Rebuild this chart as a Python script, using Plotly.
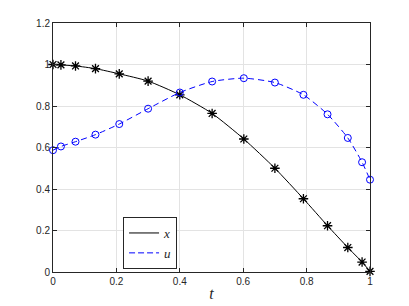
import plotly.graph_objects as go

# nodes (time)
t_nodes = [0.0, 0.025, 0.071, 0.134, 0.209, 0.300, 0.400, 0.502, 0.602, 0.700, 0.790, 0.866, 0.930, 0.975, 1.0]
x_vals = [1.0, 0.998, 0.993, 0.980, 0.955, 0.920, 0.854, 0.764, 0.641, 0.500, 0.353, 0.223, 0.118, 0.048, 0.003]
u_vals = [0.587, 0.605, 0.628, 0.662, 0.713, 0.787, 0.865, 0.918, 0.934, 0.913, 0.854, 0.760, 0.646, 0.529, 0.445]

x_ticks = [0, 0.2, 0.4, 0.6, 0.8, 1]
y_ticks = [0, 0.2, 0.4, 0.6, 0.8, 1, 1.2]

AX = "#262626"
GRID = "#e3e3e3"
BLUE = "#0000ff"

fig = go.Figure()

fig.add_trace(go.Scatter(
    x=t_nodes, y=x_vals, mode="lines+markers", showlegend=False, cliponaxis=False,
    line=dict(color="black", width=1, shape="spline", smoothing=0.6),
    marker=dict(symbol="asterisk-open", size=8, color="black",
                line=dict(color="black", width=1.3)),
))
fig.add_trace(go.Scatter(
    x=t_nodes, y=u_vals, mode="lines+markers", showlegend=False, cliponaxis=False,
    line=dict(color=BLUE, width=1, dash="6px,4px", shape="spline", smoothing=0.6),
    marker=dict(symbol="circle-open", size=7, color=BLUE,
                line=dict(color=BLUE, width=1)),
))
# legend entries (lines only, as in the reference)
fig.add_trace(go.Scatter(x=[None], y=[None], mode="lines", name="<i>x</i>",
                         line=dict(color="black", width=1)))
fig.add_trace(go.Scatter(x=[None], y=[None], mode="lines", name="<i>u</i>",
                         line=dict(color=BLUE, width=1, dash="6px,3px")))

axis_common = dict(
    showline=True, linecolor=AX, linewidth=1, mirror="ticks",
    ticks="inside", ticklen=4, tickcolor=AX, tickwidth=1,
    showgrid=True, gridcolor=GRID, gridwidth=1, zeroline=False,
    automargin=False,
    tickfont=dict(family="Liberation Sans, Arial, sans-serif", size=10, color=AX),
)

fig.update_xaxes(range=[0, 1], tickvals=x_ticks, ticktext=[f"{v:g}" for v in x_ticks],
                 title=dict(text="<i>t</i>", standoff=1,
                            font=dict(family="Liberation Serif, serif", size=16, color=AX)),
                 **axis_common)
fig.update_yaxes(range=[0, 1.2], tickvals=y_ticks, ticktext=[f"{v:g}" for v in y_ticks],
                 **axis_common)

fig.update_layout(
    width=409, height=306,
    margin=dict(l=45, r=47, t=15, b=42, autoexpand=False),
    paper_bgcolor="white", plot_bgcolor="white",
    legend=dict(x=0.221, y=0.012, xanchor="left", yanchor="bottom",
                bgcolor="white", bordercolor=AX, borderwidth=1,
                font=dict(family="Liberation Serif, serif", size=13, color=AX),
                itemwidth=30, tracegroupgap=0),
)

fig.write_html("out.html")
